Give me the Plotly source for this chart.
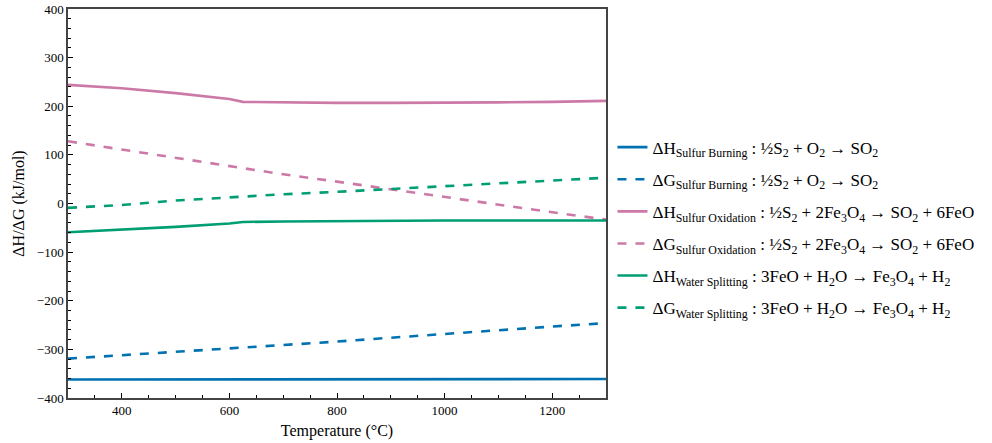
import plotly.graph_objects as go

temps = [300, 400, 500, 600, 625, 700, 800, 900, 1000, 1100, 1200, 1300]

dH_burn = [-362, -362, -362, -362, -362, -362, -362, -362, -362, -362, -361, -361]
dG_burn = [-319, -312, -305, -299, -297, -292, -284, -276, -268, -261, -253, -246]
dH_ox = [244, 237, 227, 215, 209, 208, 207, 207, 207, 208, 209, 211]
dG_ox = [128, 111, 94, 76, 72, 60, 45, 29, 13, -2, -18, -33]
dH_ws = [-59, -54, -48, -41, -38, -37, -36, -35, -35, -35, -35, -35]
dG_ws = [-9, -3, 6, 13, 15, 19, 24, 30, 36, 42, 48, 53]

labels = [
    "ΔH<sub>Sulfur Burning</sub> : ½S<sub>2</sub> + O<sub>2</sub> → SO<sub>2</sub>",
    "ΔG<sub>Sulfur Burning</sub> : ½S<sub>2</sub> + O<sub>2</sub> → SO<sub>2</sub>",
    "ΔH<sub>Sulfur Oxidation</sub> : ½S<sub>2</sub> + 2Fe<sub>3</sub>O<sub>4</sub> → SO<sub>2</sub> + 6FeO",
    "ΔG<sub>Sulfur Oxidation</sub> : ½S<sub>2</sub> + 2Fe<sub>3</sub>O<sub>4</sub> → SO<sub>2</sub> + 6FeO",
    "ΔH<sub>Water Splitting</sub> : 3FeO + H<sub>2</sub>O → Fe<sub>3</sub>O<sub>4</sub> + H<sub>2</sub>",
    "ΔG<sub>Water Splitting</sub> : 3FeO + H<sub>2</sub>O → Fe<sub>3</sub>O<sub>4</sub> + H<sub>2</sub>",
]
series = [dH_burn, dG_burn, dH_ox, dG_ox, dH_ws, dG_ws]
colors = ["#0072B2", "#0072B2", "#CC79A7", "#CC79A7", "#009E73", "#009E73"]
dashes = ["solid", "dash", "solid", "dash", "solid", "dash"]

fig = go.Figure()
for i, (ys, lab, c, d) in enumerate(zip(series, labels, colors, dashes)):
    fig.add_trace(go.Scatter(
        x=temps, y=ys, mode="lines", name=lab,
        line=dict(color=c, width=2.6, dash=d),
        legendgroup=str(i),
    ))

font = "Liberation Serif"
fig.update_layout(
    width=992, height=443,
    margin=dict(l=68, r=386, t=9, b=45),
    plot_bgcolor="white", paper_bgcolor="white",
    font=dict(family=font, size=13, color="black"),
    showlegend=True,
    legend=dict(
        x=1.012, y=0.69, xanchor="left", yanchor="top",
        font=dict(family=font, size=17, color="black"),
        tracegroupgap=7, bgcolor="rgba(0,0,0,0)",
    ),
    xaxis=dict(
        range=[300, 1300], tickvals=[400, 600, 800, 1000, 1200],
        ticks="inside", ticklen=5, tickwidth=1, tickcolor="black",
        minor=dict(ticks="inside", ticklen=3, dtick=50, tickcolor="black"),
        showline=True, linecolor="#444", linewidth=1.5, mirror=True,
        showgrid=False, zeroline=False, automargin=False,
        title=dict(text="Temperature (°C)", font=dict(family=font, size=16), standoff=7),
        tickfont=dict(family=font, size=13, color="black"),
    ),
    yaxis=dict(
        range=[-400, 400], tickvals=[-400, -300, -200, -100, 0, 100, 200, 300, 400],
        ticktext=["−400", "−300", "−200", "−100", "0", "100", "200", "300", "400"],
        ticks="inside", ticklen=5, tickwidth=1, tickcolor="black",
        minor=dict(ticks="inside", ticklen=3, dtick=20, tickcolor="black"),
        showline=True, linecolor="#444", linewidth=1.5, mirror=True,
        showgrid=False, zeroline=False, automargin=False,
        title=dict(text="ΔH/ΔG (kJ/mol)", font=dict(family=font, size=16), standoff=8),
        tickfont=dict(family=font, size=13, color="black"),
    ),
)

fig.write_html("out.html")
